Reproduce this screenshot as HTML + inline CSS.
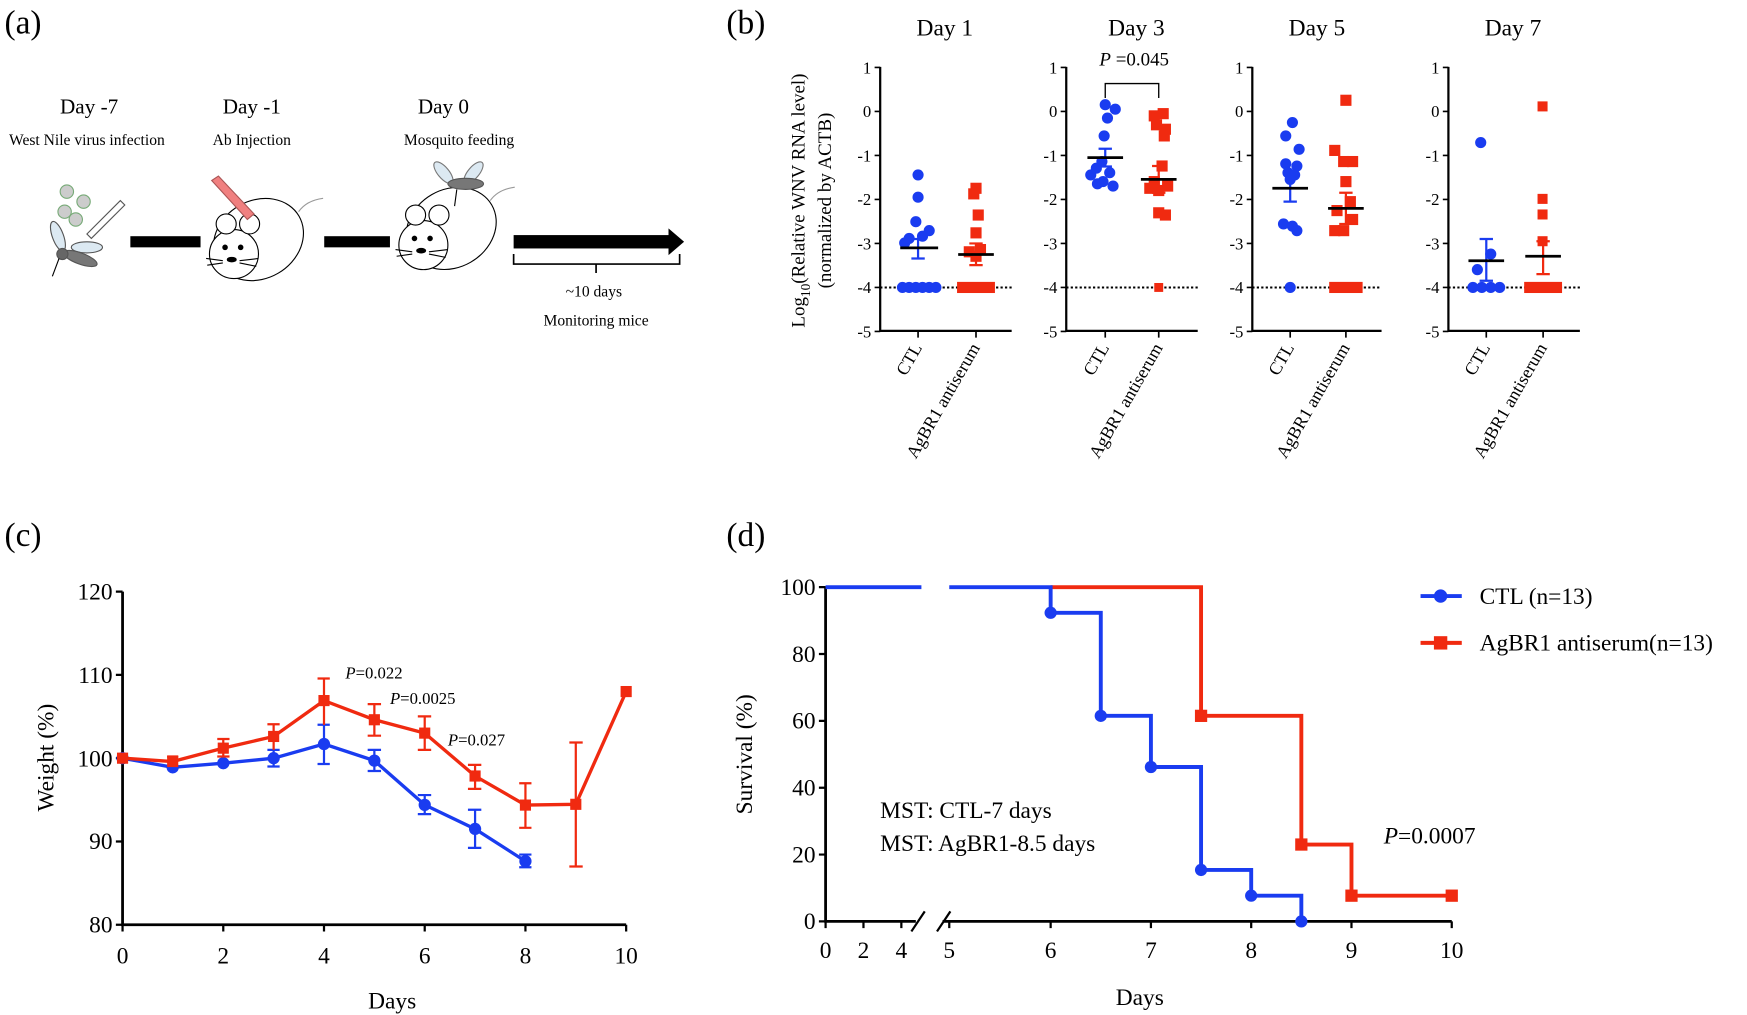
<!DOCTYPE html>
<html><head><meta charset="utf-8"><style>
html,body{margin:0;padding:0;background:#fff;}
svg{display:block;}
text{font-family:"Liberation Serif",serif;fill:#000;}
</style></head><body>
<svg width="1747" height="1015" viewBox="0 0 1568 911" preserveAspectRatio="none" xmlns="http://www.w3.org/2000/svg">
<!-- panel a -->
<text x="4" y="30" font-size="30">(a)</text>
<text x="80" y="102" font-size="19" text-anchor="middle">Day -7</text>
<text x="78" y="130" font-size="14" text-anchor="middle">West Nile virus infection</text>
<text x="226" y="102" font-size="19" text-anchor="middle">Day -1</text>
<text x="226" y="130" font-size="14" text-anchor="middle">Ab Injection</text>
<text x="398" y="102" font-size="19" text-anchor="middle">Day  0</text>
<text x="412" y="130" font-size="14" text-anchor="middle">Mosquito feeding</text>
<rect x="117" y="212" width="63" height="10" fill="#000"/>
<rect x="291" y="212" width="59" height="10" fill="#000"/>
<rect x="461" y="211" width="142" height="12" fill="#000"/>
<polygon points="600,205 614,217 600,229" fill="#000"/>
<path d="M461,228 V237 H610 V228 M535,237 V245" fill="none" stroke="#000" stroke-width="1.5"/>
<text x="533" y="266" font-size="14" text-anchor="middle">~10 days</text>
<text x="535" y="292" font-size="14" text-anchor="middle">Monitoring mice</text>
<!-- mosquito a -->
<g stroke="#555" stroke-width="1">
<circle cx="60" cy="172" r="6" fill="#ccc" stroke="#7a7"/><circle cx="58" cy="190" r="6" fill="#ccc" stroke="#7a7"/>
<circle cx="75" cy="181" r="6" fill="#ccc" stroke="#7a7"/><circle cx="68" cy="197" r="6" fill="#ccc" stroke="#7a7"/>
<ellipse cx="52" cy="212" rx="5" ry="14" fill="#dce9f2" transform="rotate(-20 52 212)"/>
<ellipse cx="78" cy="222" rx="14" ry="5" fill="#dce9f2"/>
<ellipse cx="72" cy="232" rx="16" ry="5" fill="#777" transform="rotate(20 72 232)"/>
<circle cx="56" cy="228" r="5" fill="#666"/>
<line x1="53" y1="232" x2="47" y2="248" stroke="#000"/>
<path d="M78,210 L108,180 L112,184 L82,214 Z" fill="#fff"/>
</g>
<!-- mouse 1 -->
<g fill="#fff" stroke="#000" stroke-width="1">
<ellipse cx="232" cy="215" rx="42" ry="35" transform="rotate(-30 232 215)"/>
<ellipse cx="210" cy="228" rx="22" ry="22"/>
<circle cx="203" cy="201" r="9"/><circle cx="224" cy="201" r="9"/>
<circle cx="202" cy="222" r="2" fill="#000"/><circle cx="216" cy="222" r="2" fill="#000"/>
<ellipse cx="208" cy="233" rx="4" ry="2" fill="#000"/>
<path d="M185,232 L200,234 M186,238 L200,236 M215,234 L232,232 M215,236 L230,239" />
<path d="M268,190 Q275,180 290,178" fill="none" stroke="#999"/>
<path d="M196,158 L228,192 L222,197 L190,162 Z" fill="#f08080" stroke="#a55"/>
</g>
<!-- mouse 2 -->
<g fill="#fff" stroke="#000" stroke-width="1">
<ellipse cx="405" cy="205" rx="42" ry="35" transform="rotate(-30 405 205)"/>
<ellipse cx="380" cy="220" rx="22" ry="22"/>
<circle cx="373" cy="193" r="9"/><circle cx="394" cy="193" r="9"/>
<circle cx="372" cy="214" r="2" fill="#000"/><circle cx="386" cy="214" r="2" fill="#000"/>
<ellipse cx="378" cy="225" rx="4" ry="2" fill="#000"/>
<path d="M355,224 L370,226 M356,230 L370,228 M385,226 L402,224 M385,228 L400,231"/>
<path d="M440,180 Q447,170 462,168" fill="none" stroke="#999"/>
<ellipse cx="398" cy="155" rx="5" ry="12" fill="#dce9f2" stroke="#777" transform="rotate(-40 398 155)"/>
<ellipse cx="425" cy="155" rx="5" ry="12" fill="#dce9f2" stroke="#777" transform="rotate(40 425 155)"/>
<ellipse cx="418" cy="165" rx="16" ry="5" fill="#777" stroke="#555"/>
<line x1="410" y1="170" x2="408" y2="185"/>
</g>
<!-- panel b -->
<text x="652" y="30" font-size="30">(b)</text>
<g font-size="21" text-anchor="middle">
<text x="848" y="32">Day 1</text><text x="1020" y="32">Day 3</text><text x="1182" y="32">Day 5</text><text x="1358" y="32">Day 7</text>
</g>
<text transform="translate(722,180) rotate(-90)" font-size="17" text-anchor="middle">Log<tspan font-size="12" dy="5">10</tspan><tspan dy="-5">(Relative WNV RNA level)</tspan></text>
<text transform="translate(746,180) rotate(-90)" font-size="17" text-anchor="middle">(normalized by ACTB)</text>
<g id="ax" stroke="#000" stroke-width="2" fill="none">
<path d="M790,60 V297 H908"/><path d="M957,60 V297 H1075"/><path d="M1124,60 V297 H1240"/><path d="M1300,60 V297 H1418"/>
</g>
<g stroke="#000" stroke-width="1.5">
<path d="M785,60.5H790M785,100H790M785,139.5H790M785,179H790M785,218.5H790M785,258H790M785,297.5H790"/>
<path d="M952,60.5H957M952,100H957M952,139.5H957M952,179H957M952,218.5H957M952,258H957M952,297.5H957"/>
<path d="M1119,60.5H1124M1119,100H1124M1119,139.5H1124M1119,179H1124M1119,218.5H1124M1119,258H1124M1119,297.5H1124"/>
<path d="M1295,60.5H1300M1295,100H1300M1295,139.5H1300M1295,179H1300M1295,218.5H1300M1295,258H1300M1295,297.5H1300"/>
<path d="M824,297V303M876,297V303M992,297V303M1040,297V303M1158,297V303M1208,297V303M1334,297V303M1385,297V303"/>
</g>
<g font-size="15" text-anchor="end">
<text x="782" y="66">1</text><text x="782" y="105">0</text><text x="782" y="145">-1</text><text x="782" y="184">-2</text><text x="782" y="224">-3</text><text x="782" y="263">-4</text><text x="782" y="303">-5</text>
<text x="949" y="66">1</text><text x="949" y="105">0</text><text x="949" y="145">-1</text><text x="949" y="184">-2</text><text x="949" y="224">-3</text><text x="949" y="263">-4</text><text x="949" y="303">-5</text>
<text x="1116" y="66">1</text><text x="1116" y="105">0</text><text x="1116" y="145">-1</text><text x="1116" y="184">-2</text><text x="1116" y="224">-3</text><text x="1116" y="263">-4</text><text x="1116" y="303">-5</text>
<text x="1292" y="66">1</text><text x="1292" y="105">0</text><text x="1292" y="145">-1</text><text x="1292" y="184">-2</text><text x="1292" y="224">-3</text><text x="1292" y="263">-4</text><text x="1292" y="303">-5</text>
</g>
<g stroke="#000" stroke-width="1.8" stroke-dasharray="2,2">
<path d="M790,258H908M957,258H1075M1124,258H1240M1300,258H1418"/>
</g>
<g font-size="16" text-anchor="end">
<text transform="translate(828,312) rotate(-60)">CTL</text><text transform="translate(880,312) rotate(-60)">AgBR1 antiserum</text>
<text transform="translate(996,312) rotate(-60)">CTL</text><text transform="translate(1044,312) rotate(-60)">AgBR1 antiserum</text>
<text transform="translate(1162,312) rotate(-60)">CTL</text><text transform="translate(1212,312) rotate(-60)">AgBR1 antiserum</text>
<text transform="translate(1338,312) rotate(-60)">CTL</text><text transform="translate(1389,312) rotate(-60)">AgBR1 antiserum</text>
</g>
<path d="M992,88V75H1040V88" fill="none" stroke="#000" stroke-width="1.2"/>
<text x="1018" y="59" font-size="17" text-anchor="middle"><tspan font-style="italic">P</tspan> =0.045</text>
<!-- blue points -->
<g fill="#1a3cf0">
<circle cx="824" cy="157" r="5"/><circle cx="824" cy="177" r="5"/><circle cx="822" cy="199" r="5"/><circle cx="834" cy="207" r="5"/><circle cx="816" cy="214" r="5"/><circle cx="828" cy="212" r="5"/><circle cx="812" cy="218" r="5"/>
<circle cx="810" cy="258" r="5"/><circle cx="816" cy="258" r="5"/><circle cx="822" cy="258" r="5"/><circle cx="828" cy="258" r="5"/><circle cx="834" cy="258" r="5"/><circle cx="840" cy="258" r="5"/>
<circle cx="992" cy="94" r="5"/><circle cx="1001" cy="98" r="5"/><circle cx="994" cy="106" r="5"/><circle cx="991" cy="122" r="5"/><circle cx="989" cy="145" r="5"/><circle cx="984" cy="151" r="5"/><circle cx="996" cy="155" r="5"/><circle cx="979" cy="157" r="5"/><circle cx="985" cy="165" r="5"/><circle cx="999" cy="167" r="5"/><circle cx="990" cy="163" r="5"/>
<circle cx="1160" cy="110" r="5"/><circle cx="1154" cy="122" r="5"/><circle cx="1166" cy="134" r="5"/><circle cx="1154" cy="147" r="5"/><circle cx="1164" cy="149" r="5"/><circle cx="1156" cy="155" r="5"/><circle cx="1162" cy="157" r="5"/><circle cx="1158" cy="161" r="5"/><circle cx="1152" cy="201" r="5"/><circle cx="1160" cy="203" r="5"/><circle cx="1164" cy="207" r="5"/><circle cx="1158" cy="258" r="5"/>
<circle cx="1329" cy="128" r="5"/><circle cx="1338" cy="228" r="5"/><circle cx="1326" cy="242" r="5"/><circle cx="1322" cy="258" r="5"/><circle cx="1330" cy="258" r="5"/><circle cx="1338" cy="258" r="5"/><circle cx="1346" cy="258" r="5"/>
</g>
<g fill="#f02a10">
<rect x="871" y="164" width="10" height="10"/><rect x="869" y="169" width="10" height="10"/><rect x="873" y="188" width="10" height="10"/><rect x="871" y="204" width="10" height="10"/><rect x="865" y="221" width="10" height="10"/><rect x="871" y="225" width="10" height="10"/><rect x="875" y="219" width="10" height="10"/>
<rect x="859" y="253" width="34" height="10"/>
<rect x="1039" y="97" width="10" height="10"/><rect x="1031" y="99" width="10" height="10"/><rect x="1033" y="107" width="10" height="10"/><rect x="1041" y="111" width="10" height="10"/><rect x="1040" y="117" width="10" height="10"/><rect x="1038" y="144" width="10" height="10"/><rect x="1031" y="158" width="10" height="10"/><rect x="1043" y="162" width="10" height="10"/><rect x="1035" y="166" width="10" height="10"/><rect x="1027" y="164" width="10" height="10"/><rect x="1035" y="186" width="10" height="10"/><rect x="1041" y="188" width="10" height="10"/><rect x="1036" y="254" width="8" height="8"/>
<rect x="1203" y="85" width="10" height="10"/><rect x="1193" y="130" width="10" height="10"/><rect x="1201" y="140" width="10" height="10"/><rect x="1209" y="140" width="10" height="10"/><rect x="1203" y="158" width="10" height="10"/><rect x="1207" y="176" width="10" height="10"/><rect x="1195" y="184" width="10" height="10"/><rect x="1209" y="192" width="10" height="10"/><rect x="1193" y="202" width="10" height="10"/><rect x="1201" y="202" width="10" height="10"/><rect x="1193" y="253" width="30" height="10"/>
<rect x="1380" y="91" width="9" height="9"/><rect x="1380" y="174" width="9" height="9"/><rect x="1380" y="188" width="9" height="9"/><rect x="1380" y="212" width="9" height="9"/><rect x="1368" y="253" width="34" height="10"/>
</g>
<g stroke-width="2" fill="none">
<path d="M824,214.5V232M818,214.5H830M818,232H830" stroke="#1a3cf0"/>
<path d="M876,218.5V238M870,218.5H882M870,238H882" stroke="#f02a10"/>
<path d="M992,133.5V149.4M986,133.5H998M986,149.4H998" stroke="#1a3cf0"/>
<path d="M1040,149V173M1034,149H1046M1034,173H1046" stroke="#f02a10"/>
<path d="M1158,157V181M1152,157H1164M1152,181H1164" stroke="#1a3cf0"/>
<path d="M1208,173V201M1202,173H1214M1202,201H1214" stroke="#f02a10"/>
<path d="M1334,214.5V252M1328,214.5H1340M1328,252H1340" stroke="#1a3cf0"/>
<path d="M1385,216.5V246M1379,216.5H1391M1379,246H1391" stroke="#f02a10"/>
<path d="M808,222.5H842M860,228.4H892M976,141.5H1008M1024,161H1056M1142,169H1174M1192,187H1224M1318,234H1350M1369,230H1401" stroke="#000" stroke-width="2.5"/>
</g>
<!-- panel c -->
<text x="4" y="490" font-size="30">(c)</text>
<path d="M110,531V830H562" fill="none" stroke="#000" stroke-width="2.5"/>
<g stroke="#000" stroke-width="2">
<path d="M104,531H110M104,605.75H110M104,680.5H110M104,755.25H110M104,830H110"/>
<path d="M110,830V836M200.4,830V836M290.8,830V836M381.2,830V836M471.6,830V836M562,830V836"/>
</g>
<g font-size="21" text-anchor="end">
<text x="101" y="538">120</text><text x="101" y="613">110</text><text x="101" y="688">100</text><text x="101" y="762">90</text><text x="101" y="837">80</text>
</g>
<g font-size="21" text-anchor="middle">
<text x="110" y="865">0</text><text x="200.4" y="865">2</text><text x="290.8" y="865">4</text><text x="381.2" y="865">6</text><text x="471.6" y="865">8</text><text x="562" y="865">10</text>
<text x="352" y="905">Days</text>
</g>
<text transform="translate(48,680) rotate(-90)" font-size="21" text-anchor="middle">Weight (%)</text>
<g stroke="#1a3cf0" stroke-width="3" fill="none">
<polyline points="110,680.5 155,688.7 200.4,685 245.6,680.5 290.8,667.8 336,682.7 381.2,722.4 426.4,744 471.6,773"/>
<path stroke-width="2" d="M245.6,673V688M240,673H251M240,688H251M290.8,650.5V685.7M285,650.5H296M285,685.7H296M336,673V692M330,673H342M330,692H342M381.2,713.6V730.7M375,713.6H387M375,730.7H387M426.4,726.8V761M420,726.8H432M420,761H432M471.6,767V778.4M466,767H477M466,778.4H477"/>
</g>
<g fill="#1a3cf0"><circle cx="110" cy="680.5" r="5.5"/><circle cx="155" cy="688.7" r="5.5"/><circle cx="200.4" cy="685" r="5.5"/><circle cx="245.6" cy="680.5" r="5.5"/><circle cx="290.8" cy="667.8" r="5.5"/><circle cx="336" cy="682.7" r="5.5"/><circle cx="381.2" cy="722.4" r="5.5"/><circle cx="426.4" cy="744" r="5.5"/><circle cx="471.6" cy="773" r="5.5"/></g>
<g stroke="#f02a10" stroke-width="3" fill="none">
<polyline points="110,680.5 155,683.5 200.4,671.5 245.6,661 290.8,628.8 336,646 381.2,658 426.4,696.5 471.6,722.6 516.8,721.9 562,620.7"/>
<path stroke-width="2" d="M155,679V688M150,679H160M200.4,663.3V679M195,663.3H206M195,679H206M245.6,650V673M240,650H251M290.8,609V650.6M285,609H296M336,632V660.3M330,632H342M330,660.3H342M381.2,643V673M375,643H387M375,673H387M426.4,686.5V708M420,686.5H432M420,708H432M471.6,703V743M466,703H477M466,743H477M516.8,666.4V777.7M511,666.4H523M511,777.7H523"/>
</g>
<g fill="#f02a10"><rect x="105" y="675.5" width="10" height="10"/><rect x="150" y="678.5" width="10" height="10"/><rect x="195.4" y="666.5" width="10" height="10"/><rect x="240.6" y="656" width="10" height="10"/><rect x="285.8" y="623.8" width="10" height="10"/><rect x="331" y="641" width="10" height="10"/><rect x="376.2" y="653" width="10" height="10"/><rect x="421.4" y="691.5" width="10" height="10"/><rect x="466.6" y="717.6" width="10" height="10"/><rect x="511.8" y="716.9" width="10" height="10"/><rect x="557" y="615.7" width="10" height="10"/></g>
<g font-size="15">
<text x="310" y="609"><tspan font-style="italic">P</tspan>=0.022</text>
<text x="350" y="632"><tspan font-style="italic">P</tspan>=0.0025</text>
<text x="402" y="669"><tspan font-style="italic">P</tspan>=0.027</text>
</g>
<!-- panel d -->
<text x="652" y="490" font-size="30">(d)</text>
<path d="M741,527V827H822M846,827H1303" fill="none" stroke="#000" stroke-width="2.5"/>
<path d="M818,836L830,818M841,836L853,818" stroke="#000" stroke-width="2"/>
<g stroke="#000" stroke-width="2">
<path d="M735,527H741M735,587H741M735,647H741M735,707H741M735,767H741M735,827H741"/>
<path d="M741,827V833M775,827V833M809,827V833M852,827V833M943,827V833M1033,827V833M1123,827V833M1213,827V833M1303,827V833"/>
</g>
<g font-size="21" text-anchor="end">
<text x="732" y="534">100</text><text x="732" y="594">80</text><text x="732" y="654">60</text><text x="732" y="714">40</text><text x="732" y="774">20</text><text x="732" y="834">0</text>
</g>
<g font-size="21" text-anchor="middle">
<text x="741" y="860">0</text><text x="775" y="860">2</text><text x="809" y="860">4</text><text x="852" y="860">5</text><text x="943" y="860">6</text><text x="1033" y="860">7</text><text x="1123" y="860">8</text><text x="1213" y="860">9</text><text x="1303" y="860">10</text>
<text x="1023" y="902">Days</text>
</g>
<text transform="translate(675,677) rotate(-90)" font-size="21" text-anchor="middle">Survival (%)</text>
<path d="M943,527H1078V642.5H1168V758H1213V803.9H1303" fill="none" stroke="#f02a10" stroke-width="3.5"/>
<path d="M741,527H827M852,527H943V550H988V642.5H1033V688.4H1078V780.8H1123V803.9H1168V827" fill="none" stroke="#1a3cf0" stroke-width="3.5"/>
<g fill="#1a3cf0"><circle cx="943" cy="550" r="5.5"/><circle cx="988" cy="642.5" r="5.5"/><circle cx="1033" cy="688.4" r="5.5"/><circle cx="1078" cy="780.8" r="5.5"/><circle cx="1123" cy="803.9" r="5.5"/><circle cx="1168" cy="827" r="5.5"/></g>
<g fill="#f02a10"><rect x="1072.5" y="637" width="11" height="11"/><rect x="1162.5" y="752.5" width="11" height="11"/><rect x="1207.5" y="798.4" width="11" height="11"/><rect x="1297.5" y="798.4" width="11" height="11"/></g>
<g font-size="21">
<text x="790" y="734">MST: CTL-7 days</text>
<text x="790" y="764">MST: AgBR1-8.5 days</text>
<text x="1242" y="757"><tspan font-style="italic">P</tspan>=0.0007</text>
<text x="1328" y="542">CTL (n=13)</text>
<text x="1328" y="584">AgBR1 antiserum(n=13)</text>
</g>
<path d="M1275,535H1312" stroke="#1a3cf0" stroke-width="3.5"/><circle cx="1293" cy="535" r="6" fill="#1a3cf0"/>
<path d="M1275,577H1312" stroke="#f02a10" stroke-width="3.5"/><rect x="1287" y="571" width="12" height="12" fill="#f02a10"/>
</svg>
</body></html>
